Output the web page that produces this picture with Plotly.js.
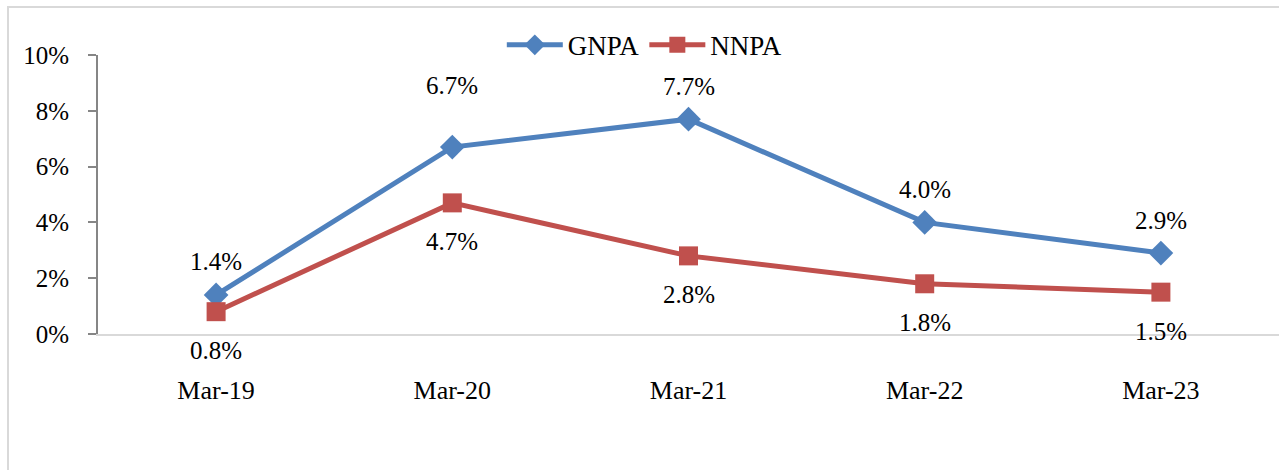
<!DOCTYPE html>
<html>
<head>
<meta charset="utf-8">
<script src="https://cdn.plot.ly/plotly-3.0.1.min.js"></script>
<style>
  body { margin: 0; background: #fff; }
  #chart { width: 1279px; height: 470px; }
  #frame { position: absolute; left: 7px; top: 6px; width: 1300px; height: 500px;
           border: 2px solid #d9d9d9; pointer-events: none; }
</style>
</head>
<body>
<div id="chart"></div>
<div id="frame"></div>
<script>
// categories and series (in %)
const periods = ["Mar-19", "Mar-20", "Mar-21", "Mar-22", "Mar-23"];
const gnpa = [1.4, 6.7, 7.7, 4.0, 2.9];
const nnpa = [0.8, 4.7, 2.8, 1.8, 1.5];
const yTicks = [0, 2, 4, 6, 8, 10];
const yTickText = yTicks.map(v => v + "%");

const font = "Liberation Serif, Times New Roman, serif";
const blue = "#4f81bd", red = "#c0504d";

let traces = [
  {x: periods, y: gnpa, name: "GNPA", type: "scatter", mode: "lines+markers",
   line: {color: blue, width: 5},
   marker: {symbol: "diamond", size: 19, color: blue}},
  {x: periods, y: nnpa, name: "NNPA", type: "scatter", mode: "lines+markers",
   line: {color: red, width: 5},
   marker: {symbol: "square", size: 19, color: red}}
];

// data labels: GNPA above, NNPA below
let annotations = [];
periods.forEach((p, i) => {
  annotations.push({x: p, y: gnpa[i], text: gnpa[i].toFixed(1) + "%",
    showarrow: false, yshift: (i === 1 ? 62 : 33),
    font: {family: font, size: 25, color: "#000"}});
  annotations.push({x: p, y: nnpa[i], text: nnpa[i].toFixed(1) + "%",
    showarrow: false, yshift: -39,
    font: {family: font, size: 25, color: "#000"}});
});

let layout = {
  width: 1279, height: 470,
  margin: {l: 98, r: 0, t: 55, b: 136},
  paper_bgcolor: "rgba(0,0,0,0)", plot_bgcolor: "rgba(0,0,0,0)",
  font: {family: font, size: 24, color: "#000"},
  showlegend: true,
  legend: {orientation: "h", x: 0.463, xanchor: "center", y: 1.035, yanchor: "middle",
           font: {family: font, size: 27}, itemwidth: 56, tracegroupgap: 0},
  xaxis: {type: "category", range: [-0.5, 4.5], showline: true, linecolor: "#d9d9d9",
          linewidth: 2, showgrid: false, zeroline: false, ticks: "",
          tickfont: {family: font, size: 26},
          ticklabelstandoff: 32, fixedrange: true},
  yaxis: {range: [0, 10], tickmode: "array", tickvals: yTicks, ticktext: yTickText,
          showline: true, linecolor: "#868686", linewidth: 2, ticks: "outside", ticklen: 8,
          tickcolor: "#868686", tickwidth: 2, showgrid: false, zeroline: false,
          tickfont: {family: font, size: 25},
          ticklabelstandoff: 14, fixedrange: true},
  annotations: annotations
};

Plotly.newPlot("chart", traces, layout, {displayModeBar: false, staticPlot: true});
</script>
</body>
</html>
